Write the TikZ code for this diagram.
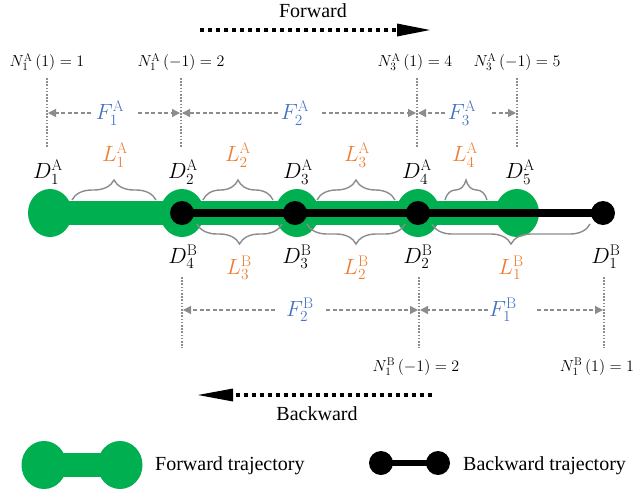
\RequirePackage{fix-cm}
\documentclass[tikz,border=0pt]{standalone}
\usepackage{fontspec}
\newfontfamily\lserif{Liberation Serif}
\usetikzlibrary{arrows.meta,decorations.pathreplacing,shapes.geometric}
\definecolor{fgreen}{HTML}{00B050}
\definecolor{lorange}{HTML}{ED7D31}
\definecolor{fblue}{HTML}{4472C4}
\definecolor{gline}{HTML}{8C8C8C}
\begin{document}
\begin{tikzpicture}[x=1pt,y=-1pt,
  dlabel/.style={font=\fontsize{22}{26}\selectfont, inner sep=0pt},
  llabel/.style={dlabel, text=lorange},
  flabel/.style={dlabel, text=fblue},
  nlabel/.style={font=\fontsize{16}{18}\selectfont, inner sep=0pt},
  txtlabel/.style={font=\lserif\fontsize{20}{24}\selectfont, inner sep=0pt},
  vline/.style={gline, line width=1.6pt, dash pattern=on 1.6pt off 1.6pt},
  dimarrow/.style={gline, line width=1.3pt, dash pattern=on 4pt off 2.5pt, -{Triangle[length=8pt,width=8pt]}},
  bracetop/.style={gline, line width=1.4pt, decorate, decoration={brace, amplitude=20pt}},
  bracebot/.style={gline, line width=1.4pt, decorate, decoration={brace, mirror, amplitude=20pt}},
  gball/.style={fill=fgreen, ellipse, minimum width=44pt, minimum height=48pt, inner sep=0pt},
  bball/.style={circle, fill=black, minimum size=24pt, inner sep=0pt},
  dirline/.style={line width=4pt, dash pattern=on 4pt off 4pt}
]
\useasboundingbox (0,0) rectangle (641,496);

% ---- direction arrows
\node[txtlabel] (fwdtxt) at (313,11) {Forward};
\coordinate (fa1) at (200,30); \coordinate (fa2) at (397,30); \coordinate (fa3) at (430,30);
\draw[dirline] (fa1) -- (fa2);
\fill (fa3) -- ([yshift=-6.5pt]fa2) -- ([yshift=6.5pt]fa2) -- cycle;

\node[txtlabel] (bwdtxt) at (317,414) {Backward};
\coordinate (ba1) at (432,395); \coordinate (ba2) at (233,395); \coordinate (ba3) at (198,395);
\draw[dirline] (ba1) -- (ba2);
\fill (ba3) -- ([yshift=-6.5pt]ba2) -- ([yshift=6.5pt]ba2) -- cycle;

% ---- N labels top
\node[nlabel] (NA1) at (47,62) {$N_1^{\mathrm{A}}\,(1) = 1$};
\node[nlabel] (NA2) at (181,62) {$N_1^{\mathrm{A}}\,(-1) = 2$};
\node[nlabel] (NA3) at (415,62) {$N_3^{\mathrm{A}}\,(1) = 4$};
\node[nlabel] (NA4) at (517,62) {$N_3^{\mathrm{A}}\,(-1) = 5$};

% ---- vertical dotted lines top
\coordinate (vt1a) at (47,78);  \coordinate (vt1b) at (47,148);
\coordinate (vt2a) at (181,78); \coordinate (vt2b) at (181,148);
\coordinate (vt3a) at (417,78); \coordinate (vt3b) at (417,148);
\coordinate (vt4a) at (517,78); \coordinate (vt4b) at (517,148);
\foreach \i in {1,2,3,4} \draw[vline] (vt\i a) -- (vt\i b);

% ---- F labels top
\node[flabel] (FA1) at (110,113) {$F_1^{\mathrm{A}}$};
\node[flabel] (FA2) at (295,113) {$F_2^{\mathrm{A}}$};
\node[flabel] (FA3) at (462,113) {$F_3^{\mathrm{A}}$};
\coordinate (a1s) at (91,113);  \coordinate (a1e) at (48,113);
\coordinate (a2s) at (138,113); \coordinate (a2e) at (180,113);
\coordinate (a3s) at (278,113); \coordinate (a3e) at (182,113);
\coordinate (a4s) at (322,113); \coordinate (a4e) at (416,113);
\coordinate (a5s) at (445,113); \coordinate (a5e) at (418,113);
\coordinate (a6s) at (492,113); \coordinate (a6e) at (516,113);
\foreach \i in {1,...,6} \draw[dimarrow] (a\i s) -- (a\i e);

% ---- trajectories
\node[gball] (gA1) at (50,213) {};
\node[gball] (gA2) at (182,213) {};
\node[gball] (gA3) at (297,213) {};
\node[gball] (gA4) at (418,213) {};
\node[gball] (gA5) at (517,213) {};
\draw[fgreen, line width=24pt] (gA1.center) -- (gA5.center);

\draw[line width=8pt] (182,213) coordinate (lB4) -- (603,213) coordinate (lB1);
\node[bball] (bB4) at (182,213) {};
\node[bball] (bB3) at (295,213) {};
\node[bball] (bB2) at (418,213) {};
\node[bball] (bB1) at (603,213) {};

% ---- braces
\coordinate (t1a) at (72,200);  \coordinate (t1b) at (156,200);
\coordinate (t2a) at (203,200); \coordinate (t2b) at (273,200);
\coordinate (t3a) at (317,200); \coordinate (t3b) at (395,200);
\coordinate (t4a) at (445,200); \coordinate (t4b) at (487,200);
\foreach \i in {1,...,4} \draw[bracetop] (t\i a) -- (t\i b);
\coordinate (u1a) at (197,224); \coordinate (u1b) at (282,224);
\coordinate (u2a) at (307,224); \coordinate (u2b) at (405,224);
\coordinate (u3a) at (432,224); \coordinate (u3b) at (590,224);
\foreach \i in {1,2,3} \draw[bracebot] (u\i a) -- (u\i b);

% ---- D labels
\node[dlabel] (DA1) at (48,172) {$D_1^{\mathrm{A}}$};
\node[dlabel] (DA2) at (183,172) {$D_2^{\mathrm{A}}$};
\node[dlabel] (DA3) at (298,172) {$D_3^{\mathrm{A}}$};
\node[dlabel] (DA4) at (417,172) {$D_4^{\mathrm{A}}$};
\node[dlabel] (DA5) at (520,172) {$D_5^{\mathrm{A}}$};
\node[dlabel] (DB4) at (183,257) {$D_4^{\mathrm{B}}$};
\node[dlabel] (DB3) at (297,257) {$D_3^{\mathrm{B}}$};
\node[dlabel] (DB2) at (418,257) {$D_2^{\mathrm{B}}$};
\node[dlabel] (DB1) at (606,257) {$D_1^{\mathrm{B}}$};

% ---- L labels
\node[llabel] (LA1) at (115,155) {$L_1^{\mathrm{A}}$};
\node[llabel] (LA2) at (238,155) {$L_2^{\mathrm{A}}$};
\node[llabel] (LA3) at (357,155) {$L_3^{\mathrm{A}}$};
\node[llabel] (LA4) at (465,155) {$L_4^{\mathrm{A}}$};
\node[llabel] (LB3) at (239,268) {$L_3^{\mathrm{B}}$};
\node[llabel] (LB2) at (356,268) {$L_2^{\mathrm{B}}$};
\node[llabel] (LB1) at (511,268) {$L_1^{\mathrm{B}}$};

% ---- vertical dotted lines bottom
\coordinate (vb1a) at (182,277); \coordinate (vb1b) at (182,348);
\coordinate (vb2a) at (419,277); \coordinate (vb2b) at (419,348);
\coordinate (vb3a) at (604,277); \coordinate (vb3b) at (604,348);
\foreach \i in {1,2,3} \draw[vline] (vb\i a) -- (vb\i b);

% ---- F labels bottom
\node[flabel] (FB2) at (300,310) {$F_2^{\mathrm{B}}$};
\node[flabel] (FB1) at (503,310) {$F_1^{\mathrm{B}}$};
\coordinate (b1s) at (275,310); \coordinate (b1e) at (183,310);
\coordinate (b2s) at (326,310); \coordinate (b2e) at (418,310);
\coordinate (b3s) at (488,310); \coordinate (b3e) at (420,310);
\coordinate (b4s) at (537,310); \coordinate (b4e) at (603,310);
\foreach \i in {1,...,4} \draw[dimarrow] (b\i s) -- (b\i e);

% ---- N labels bottom
\node[nlabel] (NB2) at (416,367) {$N_1^{\mathrm{B}}\,(-1) = 2$};
\node[nlabel] (NB1) at (597,367) {$N_1^{\mathrm{B}}\,(1) = 1$};

% ---- legend
\node[fill=fgreen, ellipse, minimum width=45pt, minimum height=48pt, inner sep=0pt] (lg1) at (44,465) {};
\node[fill=fgreen, ellipse, minimum width=45pt, minimum height=48pt, inner sep=0pt] (lg2) at (120,465) {};
\draw[fgreen, line width=24pt] (lg1.center) -- (lg2.center);
\node[txtlabel, anchor=west] (lgt1) at (155,466) {Forward trajectory};

\node[bball] (lb1) at (381,463) {};
\node[bball] (lb2) at (438,463) {};
\draw[line width=6pt] (lb1.center) -- (lb2.center);
\node[txtlabel, anchor=west] (lgt2) at (463,466) {Backward trajectory};
\end{tikzpicture}
\end{document}
